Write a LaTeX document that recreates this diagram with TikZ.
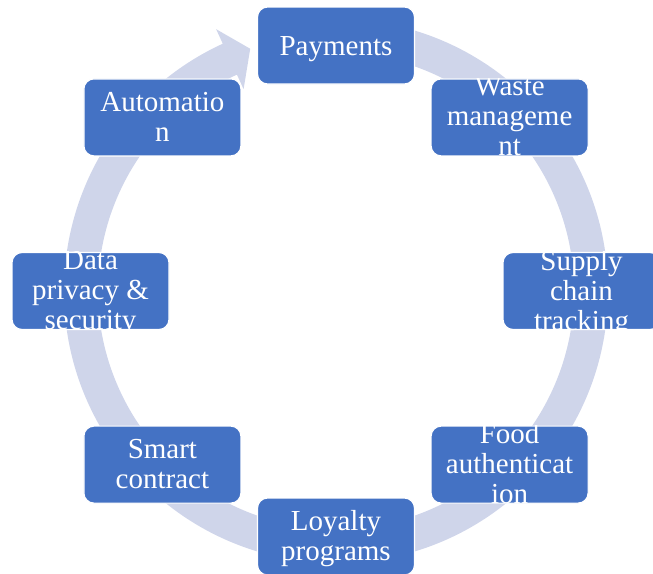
\documentclass[tikz,border=0pt]{standalone}
\usepackage{fontspec}
\setmainfont{Liberation Serif}
\definecolor{boxblue}{HTML}{4472C4}
\definecolor{ringblue}{HTML}{CFD5EA}
\newcommand\cyclebox[3]{%
  \node[stepbox] (#1) at (#2) {};
  \begin{scope}
    \clip (#1.south west) rectangle (#1.north east);
    \node[boxtext] (#1-t) at (#1.center) {#3};
  \end{scope}}
\begin{document}
\begin{tikzpicture}[x=1pt,y=-1pt,
  stepbox/.style={rectangle, rounded corners=10pt, fill=boxblue, draw=white,
    line width=1.2pt, minimum width=157pt, minimum height=77pt, inner sep=0pt},
  boxtext/.style={text=white, align=center, inner sep=0pt, yshift=-3.5pt,
    font=\fontsize{29}{30}\selectfont,
    execute at begin node=\strut, execute at end node=\strut}]
\useasboundingbox (0,0) rectangle (653,573);
\clip (0,0) rectangle (653,573);
\begin{scope}[shift={(336,291)}]
  \fill[ringblue] (-90:272) arc[start angle=-90, end angle=245.4, radius=272]
    -- (245.4:288) -- (250.5:257) -- (245.4:222) -- (245.4:238)
    arc[start angle=245.4, end angle=-90, radius=238] -- cycle;
\end{scope}
\cyclebox{pay}{336,45.5}{Payments}
\cyclebox{waste}{509.6,117.4}{Waste\\manageme\\nt}
\cyclebox{supply}{581.5,291}{Supply\\chain\\tracking}
\cyclebox{food}{509.6,464.6}{Food\\authenticat\\ion}
\cyclebox{loyal}{336,536.5}{Loyalty\\programs}
\cyclebox{smart}{162.4,464.6}{Smart\\contract}
\cyclebox{data}{90.5,291}{Data\\privacy \&\\security}
\cyclebox{auto}{162.4,117.4}{Automatio\\n}
\end{tikzpicture}
\end{document}
